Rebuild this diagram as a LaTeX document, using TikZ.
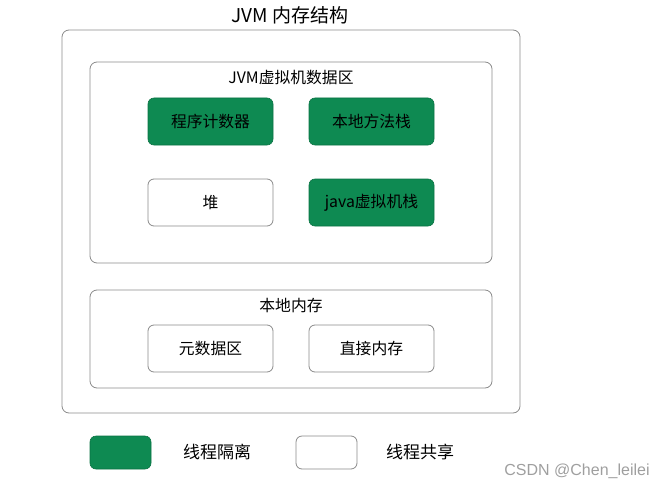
\documentclass[tikz,border=0pt]{standalone}
\usepackage{fontspec}
\setmainfont{Noto Sans CJK SC}
\newfontfamily\wmfont{Liberation Sans}
\definecolor{jgreen}{HTML}{0E8A52}
\definecolor{jgreenb}{HTML}{0B7344}
\definecolor{frame}{HTML}{8A8A8A}
\begin{document}
\begin{tikzpicture}[x=1pt,y=-1pt,
  panel/.style={draw=frame, line width=0.8pt, rounded corners=7pt},
  gbox/.style={draw=jgreenb, fill=jgreen, line width=0.6pt, rounded corners=6pt, minimum width=125pt, minimum height=47pt, font=\fontsize{15.8}{18}\selectfont, inner sep=0pt},
  wbox/.style={draw=frame, fill=white, line width=0.8pt, rounded corners=6pt, minimum width=125pt, minimum height=47pt, font=\fontsize{15.8}{18}\selectfont, inner sep=0pt},
  lbl/.style={font=\fontsize{15.8}{18}\selectfont, inner sep=0pt}]
\useasboundingbox (0,0) rectangle (660,492);
\node[lbl, font=\fontsize{19}{22}\selectfont] (title) at (290,15) {JVM 内存结构};
\draw[panel] (62,30) rectangle (520,413);
\draw[panel] (90,62) rectangle (492,263);
\node[lbl] (dtitle) at (291,78) {JVM虚拟机数据区};
\node[gbox] (pc) at (210.5,121.5) {程序计数器};
\node[gbox] (nms) at (371.5,121.5) {本地方法栈};
\node[wbox] (heap) at (210.5,202.5) {堆};
\node[gbox] (jvms) at (371.5,202.5) {java虚拟机栈};
\draw[panel] (90,290) rectangle (492,388);
\node[lbl] (ntitle) at (291,306) {本地内存};
\node[wbox] (meta) at (210.5,348.5) {元数据区};
\node[wbox] (direct) at (371.5,348.5) {直接内存};
\node[gbox, minimum width=61pt, minimum height=33pt] (lg) at (120.5,452.5) {};
\node[lbl, font=\fontsize{17}{20}\selectfont] (lgt) at (217,452) {线程隔离};
\node[wbox, minimum width=61pt, minimum height=33pt] (lw) at (326.5,452.5) {};
\node[lbl, font=\fontsize{17}{20}\selectfont] (lwt) at (420,452) {线程共享};
\node[font=\wmfont\fontsize{16}{19}\selectfont, text=gray!75, inner sep=0pt] (wm) at (577,471) {CSDN @Chen\_leilei};
\end{tikzpicture}
\end{document}
